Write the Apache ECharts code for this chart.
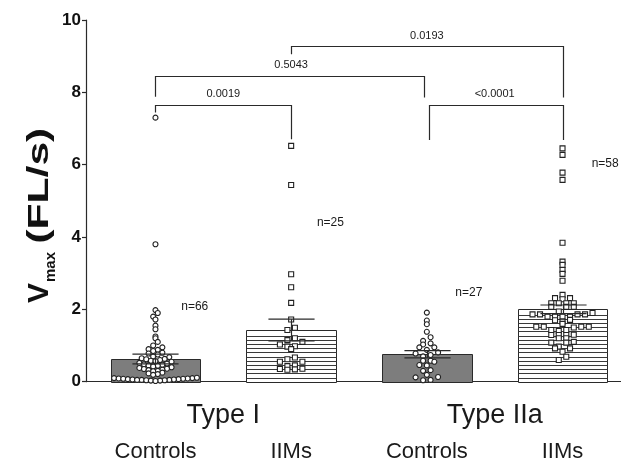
<!DOCTYPE html>
<html>
<head>
<meta charset="utf-8">
<script src="https://cdn.jsdelivr.net/npm/echarts@6/dist/echarts.min.js"></script>
<style>
  html, body { margin: 0; padding: 0; background: #fff; }
  #chart { width: 621px; height: 465px; }
</style>
</head>
<body>
<div id="chart"></div>
<script>
// ---- data ----
const groupPositions = [1, 2, 3, 4];
const groupLabels = ['Controls', 'IIMs', 'Controls', 'IIMs'];
const typeLabels = ['Type I', 'Type IIa'];
const typePositions = [1.5, 3.5];
const sampleLabels = ['n=66', 'n=25', 'n=27', 'n=58'];
const yTickValues = [0, 2, 4, 6, 8, 10];

// bar height (mean) and SEM per group
const barMeans = [0.63, 1.43, 0.76, 2.0];
const barSEM = [0.135, 0.30, 0.10, 0.12];

// individual Vmax values (FL/s)
const controlsTypeI = [7.30, 3.80, 1.98, 1.90, 1.80, 1.72, 1.55, 1.45, 1.25, 1.20,
  1.10, 1.00, 0.95, 0.90, 0.88, 0.85, 0.80, 0.78, 0.75, 0.70,
  0.68, 0.65, 0.63, 0.62, 0.60, 0.58, 0.57, 0.55, 0.52, 0.50,
  0.48, 0.47, 0.45, 0.44, 0.42, 0.40, 0.38, 0.36, 0.35, 0.33,
  0.32, 0.30, 0.29, 0.25, 0.23, 0.21, 0.19, 0.10, 0.10, 0.09,
  0.09, 0.08, 0.08, 0.07, 0.07, 0.06, 0.06, 0.05, 0.05, 0.05,
  0.04, 0.04, 0.03, 0.03, 0.02, 0.11];
const iimsTypeI = [6.52, 5.44, 2.97, 2.61, 2.18, 1.72, 1.49, 1.43, 1.20, 1.15,
  1.10, 1.03, 0.98, 0.97, 0.90, 0.67, 0.62, 0.55, 0.55, 0.45,
  0.43, 0.36, 0.35, 0.34, 0.33];
const controlsTypeIIa = [1.91, 1.69, 1.59, 1.38, 1.23, 1.13, 1.06, 1.03, 0.95, 0.95,
  0.88, 0.81, 0.78, 0.74, 0.70, 0.58, 0.58, 0.55, 0.46, 0.45,
  0.32, 0.30, 0.19, 0.13, 0.12, 0.05, 0.04];
const iimsTypeIIa = [6.45, 6.27, 5.78, 5.58, 3.84, 3.32, 3.23, 3.09, 2.98, 2.79,
  2.40, 2.31, 2.31, 2.28, 2.17, 2.17, 2.17, 2.17, 2.07, 2.07,
  2.07, 1.94, 1.90, 1.86, 1.86, 1.86, 1.86, 1.80, 1.80, 1.80,
  1.80, 1.71, 1.70, 1.66, 1.60, 1.52, 1.52, 1.52, 1.52, 1.50,
  1.43, 1.43, 1.40, 1.30, 1.29, 1.29, 1.29, 1.20, 1.20, 1.10,
  1.08, 1.08, 0.97, 0.92, 0.92, 0.83, 0.69, 0.60];

// pairwise comparisons and their p values
const compareFrom = [1, 1, 2, 3];
const compareTo = [2, 3, 4, 4];
const pValues = ['0.0019', '0.5043', '0.0193', '<0.0001'];

// ---- annotation layout (axis units) ----
const bracketLevel = [7.65, 8.45, 9.28, 7.65];
const bracketLeftEnd = [7.44, 7.88, 9.05, 6.68];
const bracketRightEnd = [6.70, 7.86, 7.86, 6.68];
const pLabelX = [1.5, 2, 3, 3.5];
const pLabelY = [7.96, 8.77, 9.57, 7.96];
const nLabelAnchor = [[1.19, 2.07], [2.19, 4.41], [3.21, 2.46], [4.215, 6.04]];

// ---- styling ----
const FONT = '"Liberation Sans", Arial, Helvetica, sans-serif';
const INK = '#2a2a2a';
const BAR_WIDTH = 0.66;   // axis units
const CAP_WIDTH = 0.34;   // axis units
const STRIPE_GAP = 4.2;   // px between hatch lines
const SYMBOL = 5;

const groups = [
  { values: controlsTypeI, symbol: 'circle', hatched: 0, step: 4.6 },
  { values: iimsTypeI, symbol: 'rect', hatched: 1, step: 7.5 },
  { values: controlsTypeIIa, symbol: 'circle', hatched: 0, step: 7.5 },
  { values: iimsTypeIIa, symbol: 'rect', hatched: 1, step: 7.5 }
];

const chart = echarts.init(document.getElementById('chart'), null, { renderer: 'canvas' });

function crisp(v) { return Math.round(v) + 0.5; }

function renderBar(params, api) {
  const x = api.value(0), v = api.value(1), hatched = api.value(2);
  const top = api.coord([x, v]);
  const base = api.coord([x, 0]);
  const w = api.size([BAR_WIDTH, 0])[0];
  const left = crisp(top[0] - w / 2);
  const right = crisp(top[0] + w / 2);
  const y0 = crisp(top[1]), y1 = crisp(base[1]);
  const children = [{
    type: 'rect',
    shape: { x: left, y: y0, width: right - left, height: y1 - y0 },
    style: { fill: hatched ? '#ffffff' : '#7d7d7d', stroke: INK, lineWidth: 1 }
  }];
  if (hatched) {
    for (let y = base[1] - STRIPE_GAP; y > top[1] + 2; y -= STRIPE_GAP) {
      const yy = crisp(y);
      children.push({
        type: 'line',
        shape: { x1: left, y1: yy, x2: right, y2: yy },
        style: { stroke: '#3a3a3a', lineWidth: 1 }
      });
    }
  }
  return { type: 'group', children };
}

function renderErrorBar(params, api) {
  const x = api.value(0), m = api.value(1), s = api.value(2);
  const hi = api.coord([x, m + s]);
  const lo = api.coord([x, m - s]);
  const half = api.size([CAP_WIDTH, 0])[0] / 2;
  const cx = crisp(hi[0]);
  const style = { stroke: INK, lineWidth: 1.2 };
  return {
    type: 'group',
    children: [
      { type: 'line', shape: { x1: cx, y1: hi[1], x2: cx, y2: lo[1] }, style },
      { type: 'line', shape: { x1: cx - half, y1: hi[1], x2: cx + half, y2: hi[1] }, style },
      { type: 'line', shape: { x1: cx - half, y1: lo[1], x2: cx + half, y2: lo[1] }, style }
    ]
  };
}

function renderBracket(params, api) {
  const i = params.dataIndex;
  const a = compareFrom[i], b = compareTo[i];
  // where one bracket ends on the group another one starts from, the legs are nudged apart
  const shiftA = (a === 3 && compareTo.indexOf(a) >= 0) ? 2.5 : 0;
  const shiftB = (b === 3 && compareFrom.indexOf(b) >= 0) ? -2.5 : 0;
  const pTop = api.coord([a, bracketLevel[i]]);
  const pL = api.coord([a, bracketLeftEnd[i]]);
  const pR = api.coord([b, bracketRightEnd[i]]);
  const xl = crisp(pTop[0] + shiftA), xr = crisp(pR[0] + shiftB), yt = crisp(pTop[1]);
  return {
    type: 'polyline',
    shape: { points: [[xl, pL[1]], [xl, yt], [xr, yt], [xr, pR[1]]] },
    style: { stroke: INK, lineWidth: 1.2, fill: null }
  };
}

function textItem(x, y, text, font, align) {
  return {
    type: 'text', x, y,
    style: { text, font, fill: '#1a1a1a', align: align || 'center', verticalAlign: 'middle' }
  };
}

const option = {
  animation: false,
  backgroundColor: '#ffffff',
  grid: { left: 86, right: 0, top: 20, bottom: 83.3, containLabel: false, outerBoundsMode: 'none' },
  xAxis: {
    type: 'value', min: 0.488, max: 4.431,
    axisLine: { show: true, onZero: false, lineStyle: { color: INK, width: 1.2 } },
    axisTick: { show: false }, axisLabel: { show: false }, splitLine: { show: false }
  },
  yAxis: {
    type: 'value', min: 0, max: 10, interval: 2,
    axisLine: { show: true, lineStyle: { color: INK, width: 1.2 } },
    axisTick: { show: true, length: 4, lineStyle: { color: INK, width: 1.2 } },
    axisLabel: { show: true, margin: 5, color: '#111', fontSize: 17, fontWeight: 'bold', fontFamily: FONT,
      formatter: v => (yTickValues.indexOf(v) >= 0 ? String(v) : '') },
    splitLine: { show: false }
  },
  series: [
    {
      type: 'custom', name: 'bars', z: 2, clip: false,
      renderItem: renderBar,
      encode: { x: 0, y: 1 },
      data: groupPositions.map((x, i) => [x, barMeans[i], groups[i].hatched])
    },
    ...groups.map((g, i) => ({
      type: 'scatter', name: groupLabels[i] + ' ' + (i < 2 ? typeLabels[0] : typeLabels[1]),
      z: 3, symbol: g.symbol, symbolSize: SYMBOL,
      itemStyle: { color: '#ffffff', borderColor: '#222', borderWidth: 1.1, opacity: 1 },
      data: g.values.map(v => [groupPositions[i], v])
    })),
    {
      type: 'custom', name: 'sem', z: 4, clip: false,
      renderItem: renderErrorBar,
      encode: { x: 0, y: 1 },
      data: groupPositions.map((x, i) => [x, barMeans[i], barSEM[i]])
    },
    {
      type: 'custom', name: 'brackets', z: 5, clip: false,
      renderItem: renderBracket,
      encode: { x: 0, y: 1 },
      data: pValues.map((p, i) => [compareFrom[i], bracketLevel[i]])
    },
    {
      type: 'custom', name: 'pvalues', z: 5, clip: false,
      renderItem: (params, api) => {
        const pt = api.coord([api.value(0), api.value(1)]);
        return textItem(pt[0], pt[1], pValues[params.dataIndex], '11px ' + FONT);
      },
      encode: { x: 0, y: 1 },
      data: pValues.map((p, i) => [pLabelX[i], pLabelY[i]])
    },
    {
      type: 'custom', name: 'n', z: 5, clip: false,
      renderItem: (params, api) => {
        const pt = api.coord([api.value(0), api.value(1)]);
        return textItem(pt[0], pt[1], sampleLabels[params.dataIndex], '12px ' + FONT, 'left');
      },
      encode: { x: 0, y: 1 },
      data: nLabelAnchor
    },
    {
      type: 'custom', name: 'groupLabels', z: 5, clip: false,
      renderItem: (params, api) => {
        const pt = api.coord([api.value(0), 0]);
        return textItem(pt[0], pt[1] + 70, groupLabels[params.dataIndex], '22px ' + FONT);
      },
      encode: { x: 0, y: 1 },
      data: groupPositions.map(x => [x, 0])
    },
    {
      type: 'custom', name: 'typeLabels', z: 5, clip: false,
      renderItem: (params, api) => {
        const pt = api.coord([api.value(0), 0]);
        return textItem(pt[0], pt[1] + 34, typeLabels[params.dataIndex], '27px ' + FONT);
      },
      encode: { x: 0, y: 1 },
      data: typePositions.map(x => [x, 0])
    }
  ]
};

chart.setOption(option);

// axis title "Vmax (FL/s)" with a subscript, reading upward beside the axis
const measure = document.createElement('canvas').getContext('2d');
function textWidth(text, font) { measure.font = font; return measure.measureText(text).width; }
const SIZE_V = 30, SIZE_SUB = 15, SIZE_UNIT = 30, UNIT_STRETCH = 1.42;
const fontV = 'bold ' + SIZE_V + 'px ' + FONT;
const fontSub = 'bold ' + SIZE_SUB + 'px ' + FONT;
const fontUnit = 'bold ' + SIZE_UNIT + 'px ' + FONT;
const wV = textWidth('V', fontV), wSub = textWidth('max', fontSub), wGap = textWidth(' ', fontUnit);
// baseline sits at local y = 0; a text box's middle is about 0.35 em above its baseline
const titleText = (x, baseline, text, font, size, stretch) => ({
  type: 'text', x, y: baseline - 0.35 * size, scaleX: stretch || 1,
  style: { text, font, fill: '#111', align: 'left', verticalAlign: 'middle' }
});
chart.setOption({
  graphic: [{
    type: 'group', x: 50, y: 303, rotation: Math.PI / 2,
    children: [
      titleText(0, 0, 'V', fontV, SIZE_V),
      titleText(wV + 1, 6, 'max', fontSub, SIZE_SUB),
      titleText(wV + 1 + wSub + wGap, 0, '(FL/s)', fontUnit, SIZE_UNIT, UNIT_STRETCH)
    ]
  }]
});

// dot-plot spread: values falling in the same symbol-high row are set side by side,
// centred on the group, the lowest value in the middle
function rowOffsets(values, xPos, step) {
  const rowHeight = SYMBOL;
  const rows = {};
  values.forEach((v, i) => {
    const py = chart.convertToPixel({ xAxisIndex: 0, yAxisIndex: 0 }, [xPos, v])[1];
    const base = chart.convertToPixel({ xAxisIndex: 0, yAxisIndex: 0 }, [xPos, 0])[1];
    const r = Math.floor((base - py) / rowHeight);
    (rows[r] = rows[r] || []).push(i);
  });
  const offsets = new Array(values.length).fill(0);
  Object.keys(rows).forEach(r => {
    const idx = rows[r].sort((a, b) => values[a] - values[b]);
    const n = idx.length;
    // slots ordered from the centre outward, alternating sides
    const slots = [];
    for (let j = 0; j < n; j++) slots.push((j - (n - 1) / 2) * step);
    slots.sort((a, b) => Math.abs(a) - Math.abs(b) || a - b);
    idx.forEach((i, k) => { offsets[i] = slots[k]; });
  });
  return offsets;
}

chart.setOption({
  series: groups.map((g, i) => {
    const off = rowOffsets(g.values, groupPositions[i], g.step);
    return {
      name: groupLabels[i] + ' ' + (i < 2 ? typeLabels[0] : typeLabels[1]),
      data: g.values.map((v, j) => ({ value: [groupPositions[i], v], symbolOffset: [off[j], 0] }))
    };
  })
});
</script>
</body>
</html>
